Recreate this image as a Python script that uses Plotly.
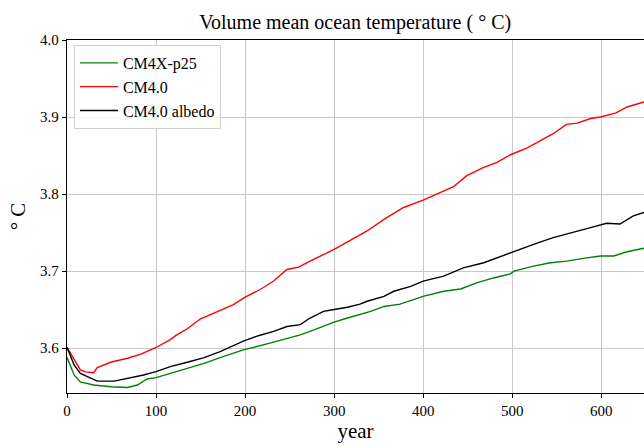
import plotly.graph_objects as go

# CM4X-p25 (green)
green_years = [0, 8, 15, 30, 49, 68, 79, 90, 100, 116, 135, 154, 172, 198, 230, 262, 273, 288, 300, 315, 329,
               341, 356, 374, 400, 423, 442, 460, 479, 498, 502, 524, 543, 561, 580, 599, 614, 629, 648]
green_vals = [3.588, 3.565, 3.556, 3.552, 3.5497, 3.5488, 3.552, 3.5598, 3.5615, 3.567, 3.5736, 3.580, 3.5876,
              3.5976, 3.607, 3.617, 3.6216, 3.628, 3.6337, 3.639, 3.6433,
              3.6477, 3.654, 3.657, 3.667, 3.6737, 3.6767, 3.6846, 3.691, 3.6963, 3.6999, 3.7064, 3.7107,
              3.7129, 3.7164, 3.7195, 3.7195, 3.725, 3.7295]

# CM4.0 (red)
red_years = [0, 15, 21, 30, 34, 49, 68, 83, 100, 116, 122, 135, 150, 169, 187, 200, 217, 232, 247, 260, 273,
             300, 318, 337, 356, 378, 400, 419, 434, 449, 468, 483, 498, 517, 531, 546, 561, 573, 588, 599,
             616, 629, 648]
red_vals = [3.601, 3.5715, 3.569, 3.568, 3.5745, 3.5815, 3.5867, 3.592, 3.6007, 3.611, 3.616, 3.625, 3.638,
            3.6477, 3.6564, 3.666, 3.676, 3.687, 3.702, 3.705, 3.713,
            3.728, 3.740, 3.752, 3.767, 3.7825, 3.792, 3.802, 3.8095, 3.8239, 3.8347, 3.841, 3.851,
            3.860, 3.8687, 3.8783, 3.8905, 3.892, 3.898, 3.900, 3.905, 3.913, 3.9196]

# CM4.0 albedo (black)
black_years = [0, 8, 15, 26, 34, 53, 68, 86, 100, 116, 135, 154, 172, 198, 215, 232, 247, 262, 273, 288, 300,
               315, 329, 337, 356, 367, 386, 400, 423, 445, 468, 498, 502, 524, 546, 569, 588, 606, 621, 636, 648]
black_vals = [3.601, 3.578, 3.567, 3.5606, 3.557, 3.557, 3.5606, 3.565, 3.5693, 3.5758, 3.5815, 3.5876, 3.5954,
              3.609, 3.616, 3.6216, 3.628, 3.6303, 3.639, 3.6477, 3.650,
              3.653, 3.657, 3.6607, 3.667, 3.6737, 3.680, 3.6868, 3.6933, 3.704, 3.7107, 3.7238, 3.725,
              3.7347, 3.7433, 3.751, 3.7564, 3.762, 3.761, 3.7717, 3.776]

x_ticks = [0, 100, 200, 300, 400, 500, 600]
y_ticks = [3.6, 3.7, 3.8, 3.9, 4.0]

SERIF = "Liberation Serif, DejaVu Serif, serif"

fig = go.Figure()
fig.add_trace(go.Scatter(x=green_years, y=green_vals, mode="lines", name="CM4X-p25",
                         line=dict(color="green", width=1.4)))
fig.add_trace(go.Scatter(x=red_years, y=red_vals, mode="lines", name="CM4.0",
                         line=dict(color="red", width=1.4)))
fig.add_trace(go.Scatter(x=black_years, y=black_vals, mode="lines", name="CM4.0 albedo",
                         line=dict(color="black", width=1.4)))

fig.update_layout(
    width=644, height=446,
    margin=dict(l=67, r=0, t=40, b=53, autoexpand=False),
    paper_bgcolor="white", plot_bgcolor="white",
    font=dict(family=SERIF, size=15, color="black"),
    title=dict(text="Volume mean ocean temperature ( ° C)", x=0.5515, xanchor="center",
               y=0.95, yanchor="middle", font=dict(size=20, family=SERIF)),
    legend=dict(x=0.012, y=0.986, xanchor="left", yanchor="top",
                bgcolor="rgba(255,255,255,0.85)", bordercolor="#d0d0d0", borderwidth=1,
                itemwidth=38,
                font=dict(size=16, family=SERIF)),
    showlegend=True,
)
fig.update_xaxes(range=[0, 648], tickvals=x_ticks, ticktext=[str(v) for v in x_ticks],
                 automargin=False,
                 showgrid=True, gridcolor="#c8c8c8", gridwidth=1,
                 showline=True, linecolor="black", linewidth=1.3, mirror=True,
                 ticks="outside", ticklen=4, tickcolor="black", zeroline=False,
                 title=dict(text="year", font=dict(size=21, family=SERIF), standoff=4),
                 tickfont=dict(size=15, family=SERIF))
fig.update_yaxes(range=[3.5416, 4.0], tickvals=y_ticks, ticktext=[f"{v:.1f}" for v in y_ticks],
                 automargin=False,
                 showgrid=True, gridcolor="#c8c8c8", gridwidth=1,
                 showline=True, linecolor="black", linewidth=1.3,
                 ticks="outside", ticklen=4, tickcolor="black", zeroline=False,
                 title=dict(text="° C", font=dict(size=21, family=SERIF), standoff=8),
                 tickfont=dict(size=15, family=SERIF))

fig.write_html("out.html", config={"displayModeBar": False},
               post_script="document.body.style.margin='0';document.body.style.overflow='hidden';")
